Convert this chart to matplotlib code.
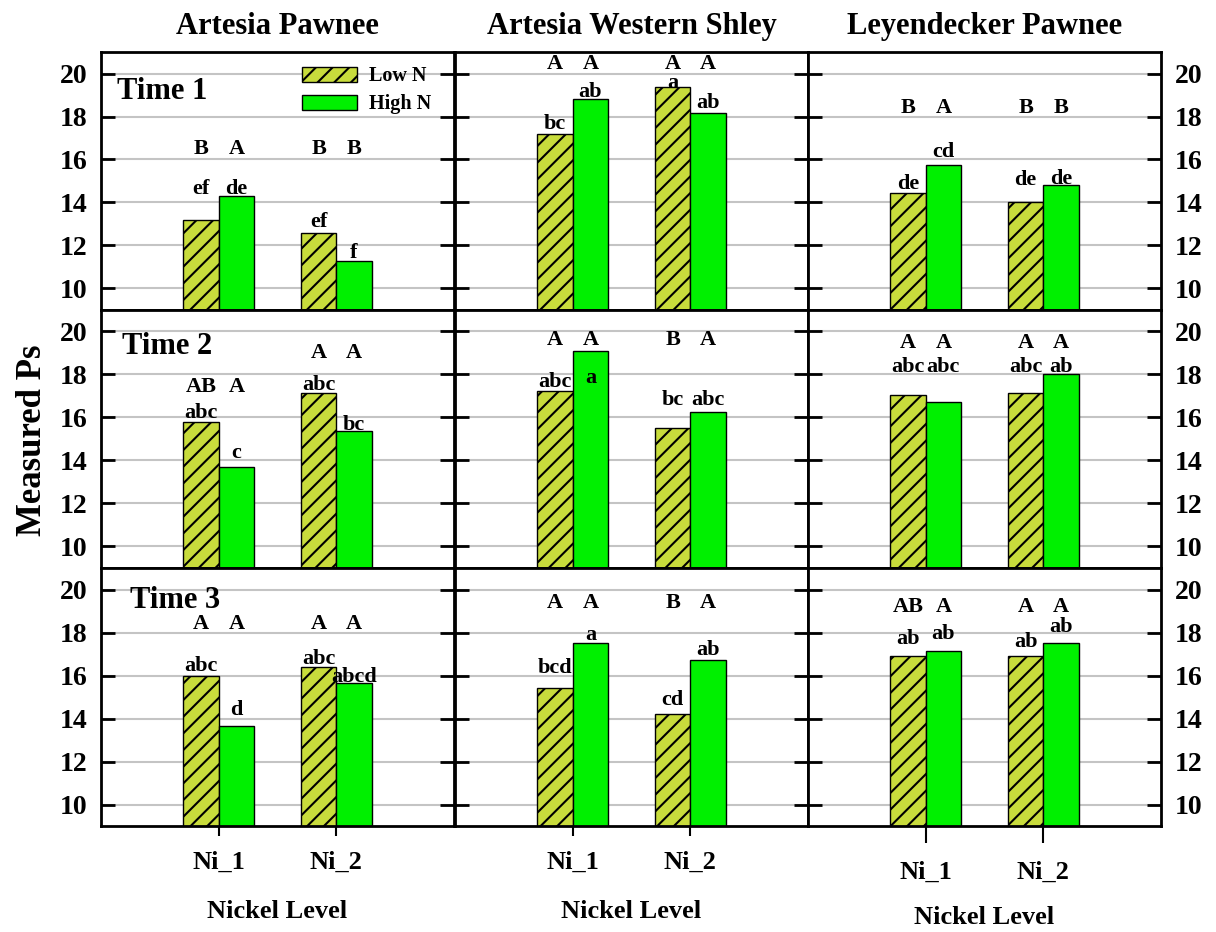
import matplotlib
matplotlib.use("Agg")
import matplotlib.pyplot as plt
import numpy as np

plt.rcParams['font.family'] = ['Liberation Serif', 'DejaVu Serif']
plt.rcParams['font.weight'] = 'bold'
plt.rcParams['axes.titleweight'] = 'bold'
plt.rcParams['axes.labelweight'] = 'bold'
plt.rcParams['hatch.linewidth'] = 1.5

# ---- data ----
sites = ["Artesia Pawnee", "Artesia Western Shley", "Leyendecker Pawnee"]
times = ["Time 1", "Time 2", "Time 3"]
ni_levels = ["Ni_1", "Ni_2"]

# measured Ps, [site][nickel level]
low_n_t1 = [[13.2, 12.6], [17.2, 19.35], [14.45, 14.0]]
high_n_t1 = [[14.3, 11.3], [18.8, 18.15], [15.75, 14.8]]
low_n_t2 = [[15.8, 17.15], [17.25, 15.5], [17.05, 17.15]]
high_n_t2 = [[13.7, 15.35], [19.1, 16.25], [16.7, 18.0]]
low_n_t3 = [[16.0, 16.4], [15.4, 14.2], [16.9, 16.9]]
high_n_t3 = [[13.65, 15.65], [17.5, 16.7], [17.15, 17.5]]

# lowercase letters
low_lc_t1 = [["ef", "ef"], ["bc", "a"], ["de", "de"]]
high_lc_t1 = [["de", "f"], ["ab", "ab"], ["cd", "de"]]
low_lc_t2 = [["abc", "abc"], ["abc", "bc"], ["abc", "abc"]]
high_lc_t2 = [["c", "bc"], ["a", "abc"], ["abc", "ab"]]
low_lc_t3 = [["abc", "abc"], ["bcd", "cd"], ["ab", "ab"]]
high_lc_t3 = [["d", "abcd"], ["a", "ab"], ["ab", "ab"]]

# uppercase letters
low_uc_t1 = [["B", "B"], ["A", "A"], ["B", "B"]]
high_uc_t1 = [["A", "B"], ["A", "A"], ["A", "B"]]
low_uc_t2 = [["AB", "A"], ["A", "B"], ["A", "A"]]
high_uc_t2 = [["A", "A"], ["A", "A"], ["A", "A"]]
low_uc_t3 = [["A", "A"], ["A", "B"], ["AB", "A"]]
high_uc_t3 = [["A", "A"], ["A", "A"], ["A", "A"]]

# where the letters sit (data units), [site][level][low, high] / [site][level]
lc_y_t1 = [[[14.65, 14.65], [13.08, 11.66]], [[17.63, 19.15], [19.58, 18.64]], [[14.84, 16.36], [15.04, 15.07]]]
lc_y_t2 = [[[16.2, 14.37], [17.52, 15.66]], [[17.67, 17.83], [16.82, 16.82]], [[18.37, 18.37], [18.37, 18.37]]]
lc_y_t3 = [[[16.43, 14.38], [16.79, 15.93]], [[16.37, 17.87], [14.88, 17.2]], [[17.72, 17.92], [17.56, 18.26]]]
uc_y_t1 = [[16.47, 16.47], [20.45, 20.45], [18.4, 18.4]]
uc_y_t2 = [[17.4, 19.0], [19.6, 19.6], [19.48, 19.48]]
uc_y_t3 = [[18.38, 18.38], [19.38, 19.38], [19.19, 19.19]]

low_all = [low_n_t1, low_n_t2, low_n_t3]
high_all = [high_n_t1, high_n_t2, high_n_t3]
low_lc = [low_lc_t1, low_lc_t2, low_lc_t3]
high_lc = [high_lc_t1, high_lc_t2, high_lc_t3]
low_uc = [low_uc_t1, low_uc_t2, low_uc_t3]
high_uc = [high_uc_t1, high_uc_t2, high_uc_t3]
lc_y = [lc_y_t1, lc_y_t2, lc_y_t3]
uc_y = [uc_y_t1, uc_y_t2, uc_y_t3]

LOW_COL = '#c8dc3c'
HIGH_COL = '#00f000'
W = 0.3

fig = plt.figure(figsize=(12.16, 9.32), dpi=100)

col_left = [0.0831, 0.3742, 0.6645]
row_bottom = [0.6674, 0.3906, 0.1137]
pw, ph = 0.2903, 0.2768
time_pos = [(0.046, 0.845), (0.060, 0.858), (0.082, 0.873)]

x = np.arange(1, len(ni_levels) + 1)

for r in range(3):
    for c in range(3):
        ax = fig.add_axes([col_left[c], row_bottom[r], pw, ph])
        lo = low_all[r][c]
        hi = high_all[r][c]
        b1 = ax.bar(x - W / 2, lo, W, color=LOW_COL, edgecolor='black',
                    linewidth=1, hatch='//', label='Low N', zorder=2)
        b2 = ax.bar(x + W / 2, hi, W, color=HIGH_COL, edgecolor='black',
                    linewidth=1, label='High N', zorder=2)
        for j in range(len(x)):
            ax.text(x[j] - W / 2, lc_y[r][c][j][0], low_lc[r][c][j], ha='center', va='center', fontsize=16, zorder=3)
            ax.text(x[j] + W / 2, lc_y[r][c][j][1], high_lc[r][c][j], ha='center', va='center', fontsize=16, zorder=3)
            ax.text(x[j] - W / 2, uc_y[r][c][j], low_uc[r][c][j], ha='center', va='center', fontsize=16, zorder=3)
            ax.text(x[j] + W / 2, uc_y[r][c][j], high_uc[r][c][j], ha='center', va='center', fontsize=16, zorder=3)

        ax.set_xlim(0, 3)
        ax.set_ylim(9, 21)
        ax.set_yticks(np.arange(10, 21, 2))
        ax.yaxis.grid(True, color='#c4c4c4', linewidth=1.5, zorder=0)
        ax.set_axisbelow(True)
        for s in ax.spines.values():
            s.set_linewidth(2)
        ax.tick_params(axis='y', direction='in', length=10, width=2, left=True, right=True,
                       labelleft=(c == 0), labelright=(c == 2), labelsize=20, pad=10)

        if r == 2:
            tl = 12 if c == 2 else 7
            ax.set_xticks(x)
            ax.set_xticklabels(ni_levels)
            ax.tick_params(axis='x', direction='out', length=tl, width=1.5,
                           labelsize=19, pad=13 if c == 2 else 11)
            ax.set_xlabel('Nickel Level', fontsize=19, fontweight='bold', va='center')
            ax.xaxis.set_label_coords(0.5, -0.353 if c == 2 else -0.333)
        else:
            ax.set_xticks([])

        if c == 0:
            ax.text(time_pos[r][0], time_pos[r][1], times[r], transform=ax.transAxes,
                    ha='left', va='center', fontsize=22)
        if r == 0:
            ax.set_title(sites[c], fontsize=22, fontweight='bold', pad=13)
            if c == 0:
                ax.legend(handles=[b1, b2], loc='upper left', bbox_to_anchor=(0.57, 0.945),
                          frameon=False, fontsize=14.5, handlelength=2.7, handleheight=0.75,
                          labelspacing=0.4, handletextpad=0.6, borderpad=0, borderaxespad=0)

fig.text(0.027, 0.528, 'Measured Ps', rotation=90, ha='center', va='center', fontsize=25)

fig.savefig('out.png', dpi=100)
